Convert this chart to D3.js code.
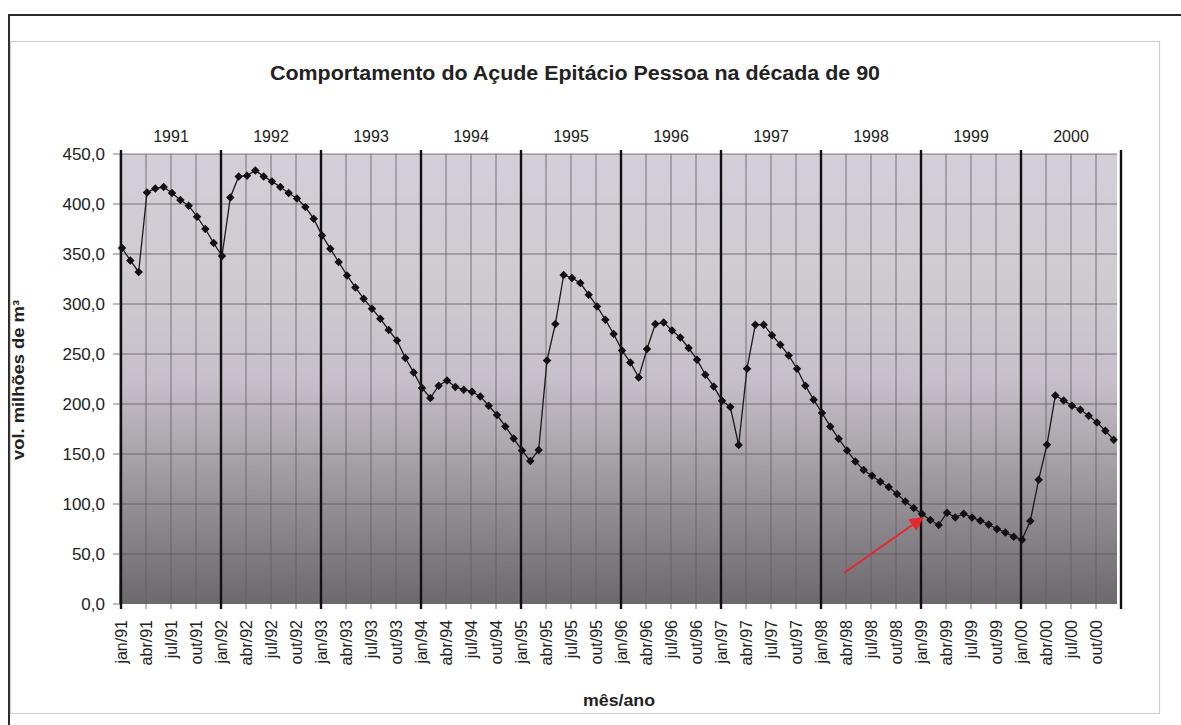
<!DOCTYPE html>
<html><head><meta charset="utf-8">
<script src="https://cdn.jsdelivr.net/npm/d3@7"></script>
<style>
body{margin:0;background:#fff;}
svg{display:block;font-family:"Liberation Sans",Arial,sans-serif;}
</style></head>
<body><svg id="c" width="1181" height="725"></svg>
<script>
const title = "Comportamento do Açude Epitácio Pessoa na década de 90";
const yTitle = "vol. milhões de m³";
const xTitle = "mês/ano";
const years = ["1991","1992","1993","1994","1995","1996","1997","1998","1999","2000"];
const monthNames = ["jan","fev","mar","abr","mai","jun","jul","ago","set","out","nov","dez"];
const yTicks = [0,50,100,150,200,250,300,350,400,450];
const v1991 = [356,343.6,332,411.6,415.6,417,411,404,398.3,387.3,375,361];
const v1992 = [348,406.6,427.6,428.3,433.6,427.6,422.6,417,411,405.6,397,385.3];
const v1993 = [368.6,355.3,342,328.6,316.6,305.3,295.3,285.3,274,263.5,246,231.6];
const v1994 = [216,206,218.3,223.6,217,214.3,212.3,207.6,198.3,189,177.6,165.6];
const v1995 = [153.6,143,154,243.6,280,329,326,321,309.3,297.6,284.3,270];
const v1996 = [253.6,241.6,226.6,255,280,281.6,273.6,266.5,256,244.3,229.3,217.6];
const v1997 = [203.3,197,159,235.3,279.3,279.3,268.8,259.3,248.6,235.3,218.3,204.3];
const v1998 = [191,177.6,165.3,153.6,142.6,134,128.3,122.3,117,110,102.6,96];
const v1999 = [90,84,79,91.3,86.6,90.3,86.6,83.3,79.6,75,71.6,67.3];
const v2000 = [64.3,83,124.3,159.3,208.6,203.6,198.3,194.3,188.3,181.6,173.3,164.3];
// annotation arrow: [monthIndex, value] tail -> tip
const arrowFrom = [86.8, 31.3];
const arrowTo = [96.2, 86.3];

const values = [].concat(v1991,v1992,v1993,v1994,v1995,v1996,v1997,v1998,v1999,v2000);
const categories = [];
years.forEach(y => monthNames.forEach(m => categories.push(m + "/" + y.slice(2))));
const data = values.map((v,i)=>({i, v, label: categories[i]}));

const svg = d3.select("#c");
const nM = categories.length;
const x = d3.scaleLinear().domain([0, nM]).range([121, 1121]);
const y = d3.scaleLinear().domain([0, 450]).range([604, 154]);

// outer frame and chart area border
svg.append("rect").attr("x",9).attr("y",15).attr("width",1190).attr("height",730)
  .attr("fill","none").attr("stroke","#2a2a2a").attr("stroke-width",2);
svg.append("rect").attr("x",10.5).attr("y",41.5).attr("width",1149).attr("height",672)
  .attr("fill","none").attr("stroke","#cfcfcf").attr("stroke-width",1.2);

// background gradient
const defs = svg.append("defs");
const g = defs.append("linearGradient").attr("id","bg").attr("x1",0).attr("y1",0).attr("x2",0).attr("y2",1);
[[0,"#d4ced8"],[0.3,"#cecbd0"],[0.5,"#c7bfca"],[0.65,"#aca6ad"],[0.8,"#908b91"],[1,"#6c696d"]]
  .forEach(([o,c])=>g.append("stop").attr("offset",o).attr("stop-color",c));
svg.append("rect").attr("x",x(0)-2).attr("y",y(450)).attr("width",x(nM)-x(0)-2).attr("height",y(0)-y(450))
  .attr("fill","url(#bg)");

// horizontal grid
svg.append("g").selectAll("line").data(yTicks.filter(t=>t>0)).join("line")
  .attr("x1",x(0)).attr("x2",x(nM)-4).attr("y1",d=>y(d)).attr("y2",d=>y(d))
  .attr("stroke","#5a585b").attr("stroke-width",0.8);
// vertical quarter grid
const quarters = d3.range(0, nM+1, 3);
svg.append("g").selectAll("line").data(quarters.filter(q=>q%12!==0)).join("line")
  .attr("x1",d=>x(d)).attr("x2",d=>x(d)).attr("y1",y(450)).attr("y2",y(0)+5)
  .attr("stroke","#5f5d60").attr("stroke-width",0.8);

// y axis ticks + labels
const yAxis = svg.append("g");
yAxis.selectAll("line").data(yTicks).join("line")
  .attr("x1",113).attr("x2",x(0)).attr("y1",d=>y(d)).attr("y2",d=>y(d))
  .attr("stroke","#777").attr("stroke-width",1);
yAxis.selectAll("text").data(yTicks).join("text")
  .attr("x",105).attr("y",d=>y(d)).attr("dy","0.36em").attr("text-anchor","end")
  .attr("font-size",17).attr("fill","#222")
  .text(d=>d3.format(".1f")(d).replace(".",","));

// year lines (thick)
const yearIdx = d3.range(0, nM+1, 12);
svg.append("g").selectAll("line").data(yearIdx).join("line")
  .attr("x1",d=>x(d)).attr("x2",d=>x(d)).attr("y1",150).attr("y2",y(0)+5)
  .attr("stroke","#111").attr("stroke-width",2.4);

// year labels
svg.append("g").selectAll("text").data(years).join("text")
  .attr("x",(d,i)=>x(i*12+6)).attr("y",142).attr("text-anchor","middle")
  .attr("font-size",16).attr("fill","#222").text(d=>d);

// x tick labels
svg.append("g").selectAll("text").data(quarters.filter(q=>q<nM)).join("text")
  .attr("transform",d=>`translate(${x(d)+5.5},620) rotate(-90)`)
  .attr("text-anchor","end").attr("font-size",16).attr("fill","#222")
  .text(d=>categories[d]);

// line + markers
svg.append("path").datum(data)
  .attr("d", d3.line().x(d=>x(d.i)+1).y(d=>y(d.v)))
  .attr("fill","none").attr("stroke","#1a1a1a").attr("stroke-width",1.3);
const sym = d3.symbol().type(d3.symbolDiamond2).size(46);
svg.append("g").selectAll("path").data(data).join("path")
  .attr("transform",d=>`translate(${x(d.i)+1},${y(d.v)})`).attr("d",sym).attr("fill","#111");

// red arrow annotation
defs.append("marker").attr("id","ah").attr("viewBox","0 0 10 10").attr("refX",9).attr("refY",5)
  .attr("markerWidth",8).attr("markerHeight",7).attr("orient","auto").attr("markerUnits","strokeWidth")
  .append("path").attr("d","M0,0 L10,5 L0,10 Z").attr("fill","#e8262b");
svg.append("line")
  .attr("x1",x(arrowFrom[0])).attr("y1",y(arrowFrom[1]))
  .attr("x2",x(arrowTo[0])).attr("y2",y(arrowTo[1]))
  .attr("stroke","#e8262b").attr("stroke-width",2).attr("marker-end","url(#ah)");

// titles
svg.append("text").attr("x",575).attr("y",80).attr("text-anchor","middle")
  .attr("font-size",20).attr("font-weight","bold").attr("fill","#222")
  .attr("textLength",610).attr("lengthAdjust","spacingAndGlyphs").text(title);
svg.append("text").attr("transform","translate(24,380) rotate(-90)").attr("text-anchor","middle")
  .attr("font-size",16).attr("font-weight","bold").attr("fill","#222")
  .attr("textLength",160).attr("lengthAdjust","spacingAndGlyphs").text(yTitle);
svg.append("text").attr("x",619).attr("y",706).attr("text-anchor","middle")
  .attr("font-size",16).attr("font-weight","bold").attr("fill","#222")
  .attr("textLength",72).attr("lengthAdjust","spacingAndGlyphs").text(xTitle);
</script></body></html>
